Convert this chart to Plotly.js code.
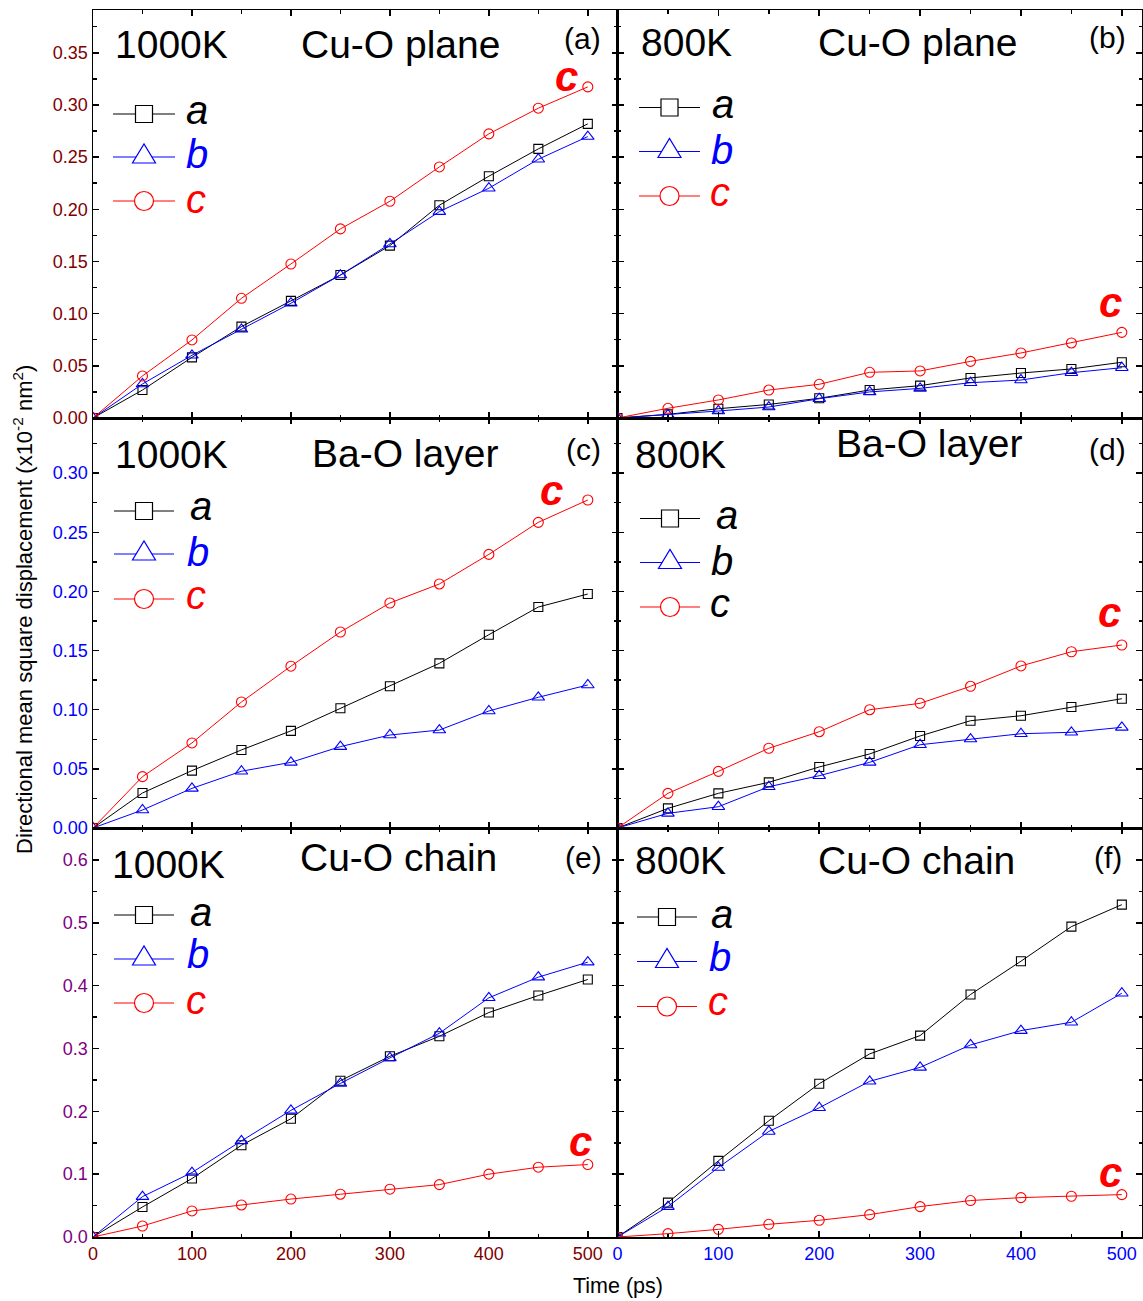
<!DOCTYPE html>
<html>
<head>
<meta charset="utf-8">
<script src="https://cdn.plot.ly/plotly-3.0.1.min.js"></script>
<style>html,body{margin:0;padding:0;background:#fff;}#chart{width:1143px;height:1301px;}</style>
</head>
<body>
<div id="chart"></div>
<script>
// ---------------- DATA ----------------
const time = [0, 50, 100, 150, 200, 250, 300, 350, 400, 450, 500];

// (a) 1000K Cu-O plane
const plane1000_a = [0, 0.0268, 0.0581, 0.0876, 0.1122, 0.137, 0.1652, 0.2039, 0.2317, 0.2579, 0.2819];
const plane1000_b = [0, 0.0326, 0.0601, 0.085, 0.110, 0.137, 0.1668, 0.1978, 0.2202, 0.248, 0.2697];
const plane1000_c = [0, 0.0403, 0.0748, 0.1147, 0.1476, 0.1812, 0.2077, 0.2406, 0.2723, 0.2969, 0.3173];
// (b) 800K Cu-O plane
const plane800_a = [0, 0.0035, 0.0089, 0.013, 0.0189, 0.0268, 0.031, 0.0384, 0.0431, 0.047, 0.0534];
const plane800_b = [0, 0.003, 0.0067, 0.0105, 0.0185, 0.025, 0.0284, 0.0338, 0.0364, 0.0434, 0.0482];
const plane800_c = [0, 0.0093, 0.0173, 0.0268, 0.0323, 0.0438, 0.0451, 0.0543, 0.0623, 0.0719, 0.0821];
// (c) 1000K Ba-O layer
const layer1000_a = [0, 0.0296, 0.0485, 0.066, 0.0821, 0.1012, 0.1198, 0.1392, 0.1634, 0.1868, 0.1978];
const layer1000_b = [0, 0.0152, 0.0335, 0.048, 0.0555, 0.0688, 0.0786, 0.0828, 0.0989, 0.1105, 0.1209];
const layer1000_c = [0, 0.0434, 0.0719, 0.1065, 0.1368, 0.1657, 0.1902, 0.2063, 0.2313, 0.2584, 0.2773];
// (d) 800K Ba-O layer
const layer800_a = [0, 0.0166, 0.0293, 0.0386, 0.0516, 0.0626, 0.0778, 0.0907, 0.0949, 0.1023, 0.1093];
const layer800_b = [0, 0.0124, 0.018, 0.0349, 0.0442, 0.0555, 0.0704, 0.0752, 0.0797, 0.0809, 0.0851];
const layer800_c = [0, 0.0293, 0.0479, 0.0674, 0.0814, 0.1, 0.1054, 0.1198, 0.137, 0.149, 0.1547];
// (e) 1000K Cu-O chain
const chain1000_a = [0, 0.0478, 0.093, 0.146, 0.1882, 0.2488, 0.2876, 0.3195, 0.3573, 0.3844, 0.4099];
const chain1000_b = [0, 0.0643, 0.1026, 0.153, 0.2015, 0.2445, 0.285, 0.3243, 0.3807, 0.4136, 0.4375];
const chain1000_c = [0, 0.0175, 0.0415, 0.051, 0.0604, 0.0681, 0.0761, 0.0834, 0.1, 0.1111, 0.1153];
// (f) 800K Cu-O chain
const chain800_a = [0, 0.0547, 0.1212, 0.185, 0.244, 0.2914, 0.3206, 0.386, 0.439, 0.494, 0.529];
const chain800_b = [0, 0.0484, 0.1106, 0.168, 0.2057, 0.2478, 0.27, 0.3057, 0.3285, 0.3418, 0.388];
const chain800_c = [0, 0.0053, 0.0122, 0.0202, 0.0266, 0.0356, 0.0484, 0.058, 0.0627, 0.0649, 0.0675];

const temps = ["1000K", "800K", "1000K", "800K", "1000K", "800K"];
const regions = ["Cu-O plane", "Cu-O plane", "Ba-O layer", "Ba-O layer", "Cu-O chain", "Cu-O chain"];
const panelTags = ["(a)", "(b)", "(c)", "(d)", "(e)", "(f)"];
const seriesNames = ["a", "b", "c"];
const yTitle = "Directional mean square displacement (x10<sup>-2</sup> nm<sup>2</sup>)";
const xTitle = "Time (ps)";

// ---------------- STYLE / LAYOUT ----------------
const FONT = "Liberation Sans, Arial, Helvetica, sans-serif";
const colA = "#000000", colB = "#0000ff", colC = "#ff0000";
const panels = [
  [plane1000_a, plane1000_b, plane1000_c],
  [plane800_a, plane800_b, plane800_c],
  [layer1000_a, layer1000_b, layer1000_c],
  [layer800_a, layer800_b, layer800_c],
  [chain1000_a, chain1000_b, chain1000_c],
  [chain800_a, chain800_b, chain800_c]
];
const symbols = ["square-open", "triangle-up-open", "circle-open"];
const sizes = [9, 11, 10];
const colors = [colA, colB, colC];

const traces = [];
panels.forEach((p, i) => {
  const ax = i === 0 ? "" : String(i + 1);
  p.forEach((vals, s) => {
    traces.push({
      x: time, y: vals, type: "scatter", mode: "lines+markers",
      name: seriesNames[s], showlegend: false,
      xaxis: "x" + ax, yaxis: "y" + ax,
      line: {color: colors[s], width: 1},
      marker: {symbol: symbols[s], size: sizes[s], color: colors[s], line: {width: 1.1, color: colors[s]}}
    });
  });
});

// pixel -> paper helpers (plot area 93..1142 x 10..1237)
const PL = 93, PR = 1142, PT = 10, PB = 1237;
const fx = x => (x - PL) / (PR - PL);
const fy = y => (PB - y) / (PB - PT);

const rowDom = [[fy(418), 1], [fy(828), fy(418)], [0, fy(828)]];
const rowRange = [[0, 0.391], [0, 0.3466], [0, 0.651]];
const rowDtick = [0.05, 0.05, 0.1];
const rowFmt = [".2f", ".2f", ".1f"];
const rowTickColor = ["#800000", "#0000ff", "#800080"];
const colDom = [[0, fx(617.5)], [fx(617.5), 1]];
const colRange = [[0, 530], [0, 520]];
const colTickColor = ["#800000", "#0000ff"];

const layout = {
  width: 1143, height: 1301,
  margin: {l: PL, r: 1143 - PR, t: PT, b: 1301 - PB},
  paper_bgcolor: "#fff", plot_bgcolor: "#fff",
  font: {family: FONT, color: "#000"},
  showlegend: false,
  shapes: [], annotations: []
};

const baseAxis = {
  showline: true, linecolor: "#000", linewidth: 1.5, mirror: "ticks",
  ticks: "inside", ticklen: 6, tickwidth: 1.5, tickcolor: "#000",
  showgrid: false, zeroline: false, fixedrange: true
};

for (let i = 0; i < 6; i++) {
  const row = Math.floor(i / 2), col = i % 2;
  const ax = i === 0 ? "" : String(i + 1);
  layout["xaxis" + ax] = Object.assign({}, baseAxis, {
    domain: colDom[col], range: colRange[col], anchor: "y" + ax,
    dtick: 100, tick0: 0,
    minor: {ticks: "inside", ticklen: 3.5, tickwidth: 1.5, tickcolor: "#000", dtick: 50, tick0: 0},
    showticklabels: row === 2,
    tickfont: {family: FONT, size: 18, color: colTickColor[col]}
  });
  layout["yaxis" + ax] = Object.assign({}, baseAxis, {
    domain: rowDom[row], range: rowRange[row], anchor: "x" + ax,
    dtick: rowDtick[row], tick0: 0, tickformat: rowFmt[row],
    minor: {ticks: "inside", ticklen: 3.5, tickwidth: 1.5, tickcolor: "#000", dtick: rowDtick[row] / 2, tick0: 0},
    showticklabels: col === 0,
    tickfont: {family: FONT, size: 18, color: rowTickColor[row]}
  });
}

function ann(text, x, y, size, opts) {
  layout.annotations.push(Object.assign({
    text: text, xref: "paper", yref: "paper", x: fx(x), y: fy(y),
    xanchor: "center", yanchor: "middle", showarrow: false,
    font: {family: FONT, size: size, color: "#000"}
  }, opts || {}));
}

// panel headings (pixel positions)
const headPos = [
  {t: [171.5, 44], r: [400, 44], g: [582.5, 38.5]},
  {t: [686, 43], r: [917.5, 43], g: [1107.5, 37.5]},
  {t: [171, 455], r: [405, 453], g: [583, 449]},
  {t: [680, 455], r: [928.5, 444], g: [1107.5, 449]},
  {t: [168.5, 864], r: [398.5, 857], g: [583, 857]},
  {t: [680, 861], r: [916, 861], g: [1107.5, 857]}
];
headPos.forEach((h, i) => {
  ann(temps[i], h.t[0], h.t[1], 39);
  ann(regions[i], h.r[0], h.r[1], 39);
  ann(panelTags[i], h.g[0], h.g[1], 30);
});

// big "c" labels near the c curves
const bigC = [[566, 77], [1110, 302], [551, 490.5], [1109, 612], [580, 1141.5], [1110, 1172]];
bigC.forEach(p => ann("<b><i>" + seriesNames[2] + "</i></b>", p[0], p[1], 42, {font: {family: FONT, size: 42, color: colC}}));

// legends drawn as shapes
const legendPos = [
  {x0: 113, x1: 175, m: 144, ys: [114, 157, 201], lx: [197, 197, 196], ly: [110, 154, 199], lc: [colA, colB, colC]},
  {x0: 639, x1: 700, m: 669.5, ys: [107.5, 151.5, 196], lx: [723, 722, 720], ly: [104.5, 150.5, 192], lc: [colA, colB, colC]},
  {x0: 114, x1: 174, m: 144, ys: [511, 554, 599], lx: [201, 198, 196], ly: [506.5, 552, 595], lc: [colA, colB, colC]},
  {x0: 640, x1: 700, m: 670, ys: [518.5, 562.5, 607], lx: [727, 722, 720], ly: [515, 560.5, 603], lc: [colA, colA, colA]},
  {x0: 114, x1: 174, m: 144, ys: [915, 959, 1003], lx: [201, 198, 196], ly: [912.5, 954, 1000], lc: [colA, colB, colC]},
  {x0: 637, x1: 697, m: 667, ys: [917, 961.5, 1006.5], lx: [722, 720, 718], ly: [913.5, 957, 1001], lc: [colA, colB, colC]}
];
legendPos.forEach(L => {
  for (let s = 0; s < 3; s++) {
    const y = L.ys[s], c = colors[s];
    layout.shapes.push({type: "line", xref: "paper", yref: "paper",
      x0: fx(L.x0), x1: fx(L.x1), y0: fy(y), y1: fy(y), line: {color: c, width: 1}});
    if (s === 0) {
      layout.shapes.push({type: "rect", xref: "paper", yref: "paper",
        x0: fx(L.m - 8.5), x1: fx(L.m + 8.5), y0: fy(y + 8.5), y1: fy(y - 8.5),
        fillcolor: "#fff", line: {color: c, width: 1.2}});
    } else if (s === 1) {
      const path = "M" + fx(L.m - 11.5) + "," + fy(y + 6) + " L" + fx(L.m + 11.5) + "," + fy(y + 6) +
                   " L" + fx(L.m) + "," + fy(y - 13) + " Z";
      layout.shapes.push({type: "path", xref: "paper", yref: "paper", path: path,
        fillcolor: "#fff", line: {color: c, width: 1.2}});
    } else {
      layout.shapes.push({type: "circle", xref: "paper", yref: "paper",
        x0: fx(L.m - 9.5), x1: fx(L.m + 9.5), y0: fy(y + 9.5), y1: fy(y - 9.5),
        fillcolor: "#fff", line: {color: c, width: 1.2}});
    }
    ann("<i>" + seriesNames[s] + "</i>", L.lx[s], L.ly[s], 40, {font: {family: FONT, size: 40, color: L.lc[s]}});
  }
});

// axis titles
ann(yTitle, 23, 610, 22, {textangle: -90});
ann(xTitle, 617.5, 1286, 21.5);

Plotly.newPlot("chart", traces, layout, {displayModeBar: false, staticPlot: true});
</script>
</body>
</html>
